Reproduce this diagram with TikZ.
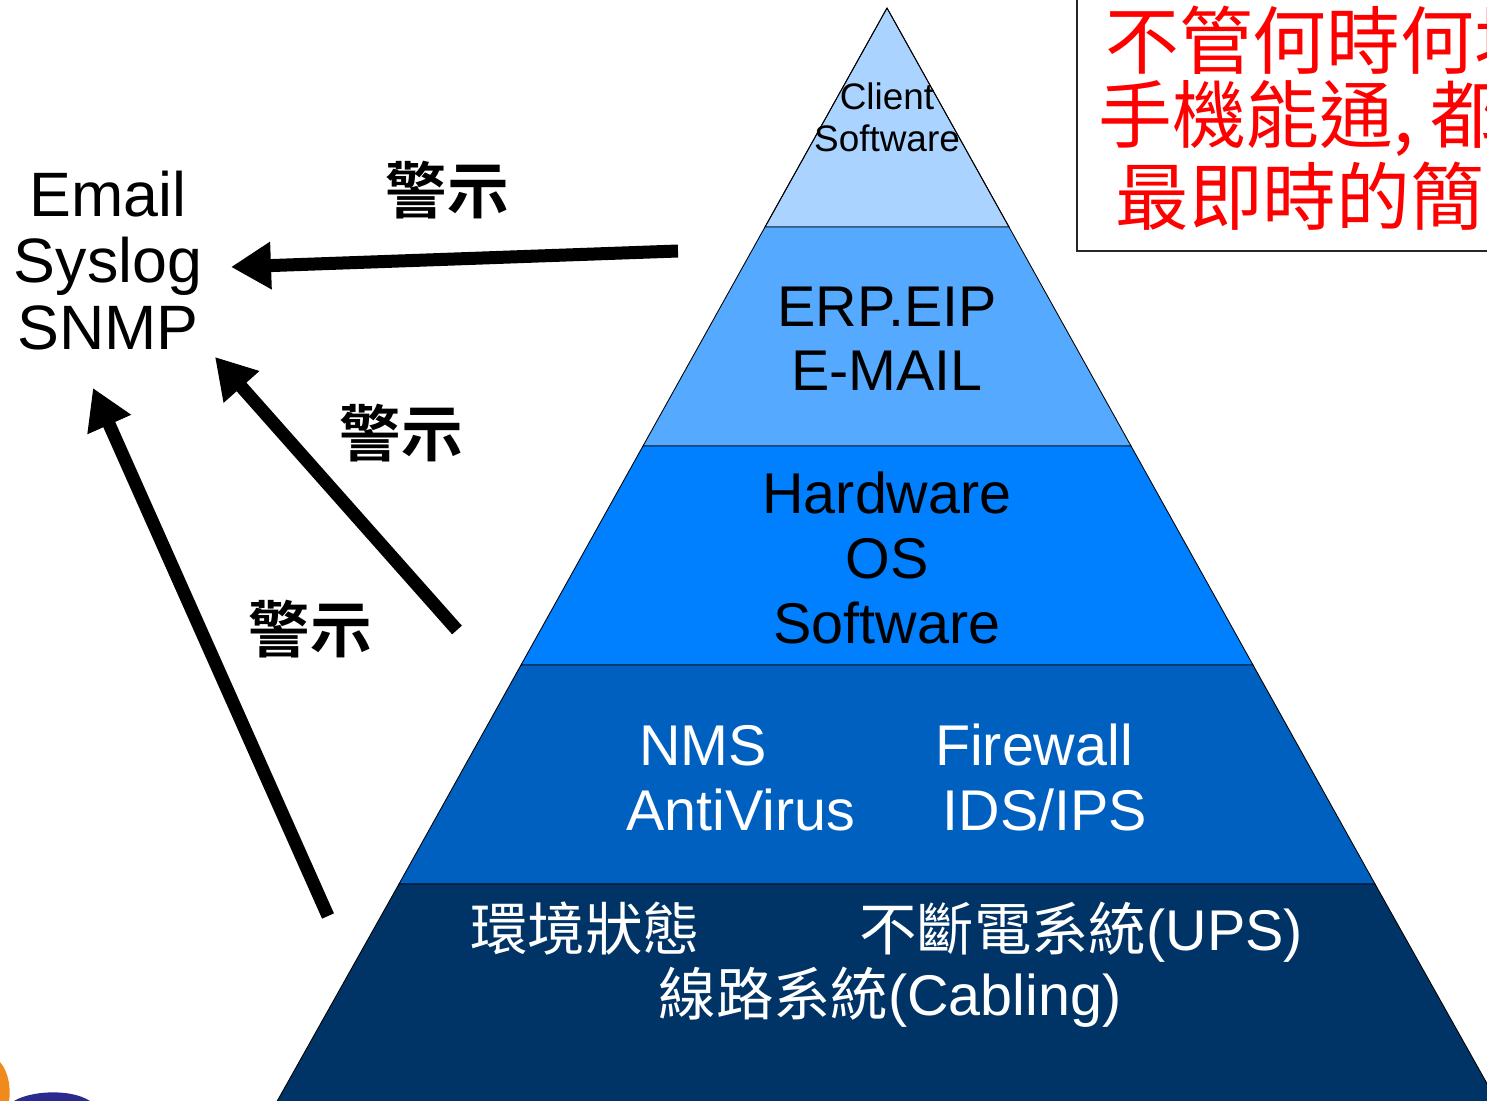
\documentclass[tikz,border=0pt]{standalone}
\usepackage{fontspec}
\setmainfont{Liberation Sans}
\newfontfamily\cjk[BoldFont={Noto Sans CJK TC Bold}]{Noto Sans CJK TC}
\usetikzlibrary{arrows.meta,positioning,calc}

\definecolor{lay1}{HTML}{AAD4FF}
\definecolor{lay2}{HTML}{55AAFF}
\definecolor{lay3}{HTML}{0080FF}
\definecolor{lay4}{HTML}{0060C0}
\definecolor{lay5}{HTML}{003366}
\definecolor{logoblue}{HTML}{2B2A8E}
\definecolor{logoorange}{HTML}{F08A1C}

\begin{document}
\begin{tikzpicture}[x=0.02cm,y=-0.02cm,
  layer/.style={draw=black,line width=0.5pt},
  lbl/.style={anchor=base,inner sep=0pt,font=\fontsize{32.7}{36}\selectfont},
  small/.style={anchor=base,inner sep=0pt,font=\fontsize{21}{24}\selectfont},
  side/.style={anchor=base,inner sep=0pt,font=\fontsize{35.7}{40}\selectfont},
  warntext/.style={inner sep=0pt,font=\cjk\bfseries\fontsize{35}{40}\selectfont},
  redtext/.style={anchor=west,inner sep=0pt,text=red,font=\cjk\fontsize{42}{46}\selectfont},
  warn/.style={line width=7.4pt,-{Triangle[length=0.8cm,width=0.9cm]}}]
\useasboundingbox (0,0) rectangle (1487,1101);
\clip (0,0) rectangle (1487,1101);

% pyramid layers
\fill[layer,fill=lay1] (887,8) -- (1009,227) -- (765,227) -- cycle;
\fill[layer,fill=lay2] (765,227) -- (1009,227) -- (1131,446) -- (643,446) -- cycle;
\fill[layer,fill=lay3] (643,446) -- (1131,446) -- (1253,665) -- (521,665) -- cycle;
\fill[layer,fill=lay4] (521,665) -- (1253,665) -- (1375,884) -- (399,884) -- cycle;
\fill[layer,fill=lay5] (399,884) -- (1375,884) -- (1499,1105) -- (275,1105) -- cycle;
\draw[layer] (887,8) -- (1009,227) (887,8) -- (765,227);

% layer labels
\node[small] (client) at (887,110) {Client};
\node[small] (clientsw) at (887,152) {Software};
\node[lbl] (erp) at (887,327) {ERP.EIP};
\node[lbl] (mail) at (887,391) {E-MAIL};
\node[lbl] (hw) at (887,513) {Hardware};
\node[lbl] (os) at (887,578) {OS};
\node[lbl] (sw) at (887,643) {Software};
\node[lbl,text=white] (nms) at (703,765) {NMS};
\node[lbl,text=white] (fw) at (1034,765) {Firewall};
\node[lbl,text=white] (av) at (741,830) {AntiVirus};
\node[lbl,text=white] (ids) at (1045,830) {IDS/IPS};
\node[lbl,text=white] (env) at (585,950) {\cjk 環境狀態};
\node[lbl,text=white] (ups) at (1081,950) {{\cjk 不斷電系統}(UPS)};
\node[lbl,text=white] (cable) at (890,1015) {{\cjk 線路系統}(Cabling)};

% alert targets
\node[side] (email) at (108,217) {Email};
\node[side] (syslog) at (108,283) {Syslog};
\node[side] (snmp) at (108,350) {SNMP};

% arrows
\coordinate (t1) at (678,251);
\coordinate (h1) at (231,267);
\coordinate (t2) at (457,630);
\coordinate (h2) at (215,357);
\coordinate (t3) at (328,916);
\coordinate (h3) at (93,388);
\draw[warn] (t1) -- (h1);
\draw[warn] (t2) -- (h2);
\draw[warn] (t3) -- (h3);
\node[warntext] (w1) at (447,190) {警示};
\node[warntext] (w2) at (401,433) {警示};
\node[warntext] (w3) at (310,629) {警示};

% note box
\draw[line width=1.2pt,black!85] (1077,-5) -- (1077,251) -- (1495,251);
\node[redtext] (n1) at (1105,40) {不管何時何地};
\node[redtext] (n2) at (1098,118) {手機能通, 都};
\node[redtext] (n3) at (1115,196) {最即時的簡};

% logo fragment
\fill[logoorange] (0,1062) .. controls (9,1072) and (11,1090) .. (9,1101) -- (0,1101) -- cycle;
\fill[logoblue] (14,1101) .. controls (30,1091) and (70,1088) .. (90,1101) -- cycle;
\end{tikzpicture}
\end{document}
